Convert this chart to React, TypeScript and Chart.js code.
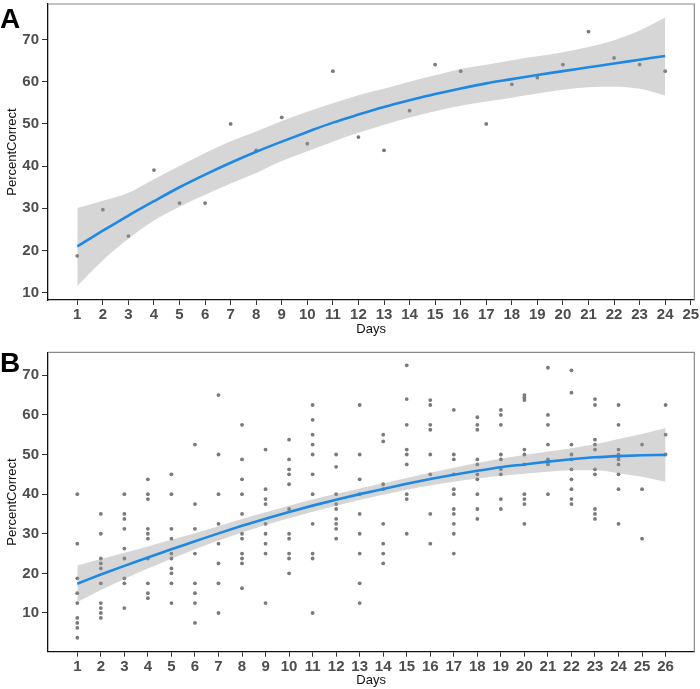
import React, { useEffect, useRef } from "react";
import { Chart, registerables } from "chart.js";
Chart.register(...registerables);

// ---------- Panel A ----------
const daysA = [1, 2, 3, 4, 5, 6, 7, 8, 9, 10, 11, 12, 13, 14, 15, 16, 17, 18, 19, 20, 21, 22, 23, 24];
const pctA = [18.75, 29.69, 23.44, 39.06, 31.25, 31.25, 50, 43.75, 51.56, 45.31, 62.5, 46.88, 43.75, 53.13, 64.06, 62.5, 50, 59.38, 60.94, 64.06, 71.88, 65.63, 64.06, 62.5];
const fitA = [21.0, 24.7, 28.3, 31.7, 35.0, 38.0, 40.8, 43.4, 45.8, 48.1, 50.3, 52.2, 54.0, 55.6, 57.1, 58.4, 59.6, 60.6, 61.6, 62.5, 63.4, 64.3, 65.2, 66.1];
const upperA = [30.1, 31.8, 33.7, 36.9, 40.0, 43.1, 45.9, 48.2, 50.7, 52.9, 54.9, 56.8, 58.3, 60.0, 61.5, 63.0, 64.0, 65.1, 66.0, 67.0, 68.2, 69.8, 72.1, 75.2];
const lowerA = [11.6, 17.7, 22.8, 27.1, 30.4, 33.2, 35.9, 38.4, 41.2, 43.5, 45.8, 47.9, 49.8, 51.5, 53.0, 54.3, 55.3, 56.2, 57.2, 58.1, 58.7, 58.8, 58.3, 56.7];
const xTicksA = [1, 2, 3, 4, 5, 6, 7, 8, 9, 10, 11, 12, 13, 14, 15, 16, 17, 18, 19, 20, 21, 22, 23, 24, 25];

// ---------- Panel B ----------
const daysB = [1, 2, 3, 4, 5, 6, 7, 8, 9, 10, 11, 12, 13, 14, 15, 16, 17, 18, 19, 20, 21, 22, 23, 24, 25, 26];
const scoresB = [
  [40, 27.5, 18.75, 15, 12.5, 8.75, 7.5, 6.25, 3.75],
  [35, 30, 23.75, 22.5, 21.25, 17.5, 12.5, 11.25, 10, 8.75],
  [40, 35, 33.75, 31.25, 26.25, 23.75, 18.75, 17.5, 11.25],
  [43.75, 40, 38.75, 31.25, 30, 28.75, 23.75, 17.5, 15, 13.75],
  [45, 40, 31.25, 28.75, 25, 23.75, 21.25, 20, 17.5, 12.5],
  [52.5, 37.5, 31.25, 25, 17.5, 15, 12.5, 7.5],
  [65, 50, 40, 32.5, 27.5, 22.5, 17.5, 10],
  [57.5, 48.75, 43.75, 40, 35, 30, 28.75, 25, 23.75, 22.5, 16.25],
  [51.25, 41.25, 38.75, 37.5, 32.5, 30, 27.5, 25, 12.5],
  [53.75, 48.75, 46.25, 45, 42.5, 36.25, 30, 28.75, 25, 23.75, 20],
  [62.5, 58.75, 55, 52.5, 50, 45, 40, 32.5, 25, 23.75, 10],
  [50, 46.9, 40, 37.5, 36.25, 33.75, 32.5, 31.25, 28.75],
  [62.5, 50, 43.75, 40, 35, 30, 25, 17.5, 12.5],
  [55, 53.3, 42.5, 41.25, 32.5, 27.5, 25, 22.5],
  [72.5, 64, 57.5, 51.25, 50, 47.5, 40, 38.75, 30],
  [63.75, 62.5, 57.5, 56.25, 50, 45, 35, 27.5],
  [61.25, 50, 48.75, 45, 41.25, 40, 36.25, 35, 32.5, 30, 25],
  [59.4, 57.5, 56.25, 48.75, 47.5, 45, 43.75, 40, 36.25, 33.75],
  [61.25, 60, 57.5, 50, 48.75, 46.25, 45, 38.75, 36.25],
  [65, 64.4, 63.75, 51.25, 50, 47.5, 40, 38.75, 37.5, 32.5],
  [71.9, 60, 57.5, 52.5, 48.75, 48.1, 47.5, 40],
  [71.25, 65.6, 52.5, 50, 48.75, 46.25, 43.75, 41.25, 38.75, 37.5],
  [64, 62.5, 53.75, 52.5, 51.25, 46.25, 45, 36.25, 35, 33.75],
  [62.5, 57.5, 51.25, 50, 49.4, 48.75, 47.5, 45, 41.25, 32.5],
  [52.5, 41.25, 28.75],
  [62.5, 55, 50],
];
const fitB = [17.4, 19.7, 21.9, 24.0, 26.1, 28.1, 30.1, 32.0, 33.8, 35.5, 37.1, 38.6, 40.0, 41.3, 42.6, 43.8, 44.9, 45.9, 46.8, 47.5, 48.2, 48.8, 49.3, 49.6, 49.8, 49.9];
const upperB = [22.0, 23.6, 25.2, 26.8, 28.5, 30.1, 31.9, 33.7, 35.4, 37.1, 38.65, 40.1, 41.45, 42.75, 44.1, 45.4, 46.65, 47.85, 48.95, 49.85, 50.75, 51.6, 52.6, 53.9, 55.2, 56.7];
const lowerB = [12.8, 15.8, 18.6, 21.2, 23.7, 26.1, 28.3, 30.3, 32.2, 33.9, 35.55, 37.1, 38.55, 39.85, 41.1, 42.2, 43.15, 43.95, 44.65, 45.15, 45.65, 46.0, 46.0, 45.3, 44.4, 43.1];
const xTicksB = [1, 2, 3, 4, 5, 6, 7, 8, 9, 10, 11, 12, 13, 14, 15, 16, 17, 18, 19, 20, 21, 22, 23, 24, 25, 26];

const yTicks = [10, 20, 30, 40, 50, 60, 70];

const FONT = "'Liberation Sans', Arial, Helvetica, sans-serif";

type PanelSpec = {
  label: string;
  days: number[];
  points: { x: number; y: number }[];
  fit: number[];
  upper: number[];
  lower: number[];
  xTicks: number[];
  xMin: number;
  xMax: number;
  yMin: number;
  yMax: number;
  padTop: number;
  xAxisH: number;
  xTitlePadBottom: number;
  labelBaseline: number;
};

function buildConfig(p: PanelSpec): any {
  const toXY = (arr: number[]) => p.days.map((d, i) => ({ x: d, y: arr[i] }));
  const framePlugin = {
    id: "frame" + p.label,
    beforeDatasetsDraw(chart: any) {
      const { ctx, chartArea } = chart;
      const { left, top, right, bottom } = chartArea;
      ctx.save();
      ctx.strokeStyle = "#8a8a8a";
      ctx.lineWidth = 1.2;
      ctx.beginPath();
      ctx.moveTo(left, top);
      ctx.lineTo(right, top);
      ctx.lineTo(right, bottom);
      ctx.stroke();
      ctx.restore();
    },
  };
  const labelPlugin = {
    id: "panelLabel" + p.label,
    afterDraw(chart: any) {
      const ctx = chart.ctx;
      ctx.save();
      ctx.font = `bold 28px ${FONT}`;
      ctx.fillStyle = "#000";
      ctx.textBaseline = "alphabetic";
      ctx.textAlign = "left";
      ctx.fillText(p.label, 0, p.labelBaseline);
      ctx.restore();
    },
  };
  return {
    type: "scatter",
    data: {
      datasets: [
        {
          type: "line",
          data: toXY(p.fit),
          borderColor: "#1f88e5",
          borderWidth: 2.6,
          pointRadius: 0,
          fill: false,
          cubicInterpolationMode: "monotone",
        },
        {
          type: "line",
          data: toXY(p.lower),
          borderWidth: 0,
          borderColor: "rgba(0,0,0,0)",
          pointRadius: 0,
          fill: false,
          cubicInterpolationMode: "monotone",
        },
        {
          type: "line",
          data: toXY(p.upper),
          borderWidth: 0,
          borderColor: "rgba(0,0,0,0)",
          backgroundColor: "rgba(153,153,153,0.4)",
          pointRadius: 0,
          fill: "-1",
          cubicInterpolationMode: "monotone",
        },
        {
          type: "scatter",
          data: p.points,
          pointRadius: 1.9,
          backgroundColor: "#7a7a7a",
          borderWidth: 0,
        },
      ],
    },
    options: {
      animation: false,
      responsive: false,
      maintainAspectRatio: false,
      events: [],
      layout: { padding: { left: 0, right: 5.7, top: p.padTop, bottom: 0 } },
      plugins: { legend: { display: false }, tooltip: { enabled: false } },
      scales: {
        x: {
          type: "linear",
          min: p.xMin,
          max: p.xMax,
          afterBuildTicks: (s: any) => {
            s.ticks = p.xTicks.map((v) => ({ value: v }));
          },
          afterFit: (s: any) => {
            s.height = p.xAxisH;
            s.paddingLeft = 0;
            s.paddingRight = 0;
          },
          ticks: {
            font: { family: FONT, size: 15, weight: "bold" },
            color: "#4d4d4d",
            padding: 1,
            autoSkip: false,
            maxRotation: 0,
            callback: (v: any) => String(v),
          },
          grid: { display: true, drawOnChartArea: false, drawTicks: true, tickLength: 5, color: "#333" },
          border: { display: true, color: "#111", width: 1.3 },
          title: {
            display: true,
            text: "Days",
            font: { family: FONT, size: 13 },
            color: "#111",
            padding: { top: 0, bottom: p.xTitlePadBottom },
          },
        },
        y: {
          type: "linear",
          min: p.yMin,
          max: p.yMax,
          afterBuildTicks: (s: any) => {
            s.ticks = yTicks.map((v) => ({ value: v }));
          },
          afterFit: (s: any) => {
            s.width = 48;
            s.paddingTop = 0;
            s.paddingBottom = 0;
          },
          ticks: {
            font: { family: FONT, size: 15, weight: "bold" },
            color: "#4d4d4d",
            padding: 3,
            callback: (v: any) => String(v),
          },
          grid: { display: true, drawOnChartArea: false, drawTicks: true, tickLength: 6, color: "#333" },
          border: { display: true, color: "#111", width: 1.3 },
          title: {
            display: true,
            text: "PercentCorrect",
            font: { family: FONT, size: 13 },
            color: "#111",
            padding: { top: 4.4, bottom: 0 },
          },
        },
      },
    },
    plugins: [framePlugin, labelPlugin],
  };
}

const pointsA = daysA.map((d, i) => ({ x: d, y: pctA[i] }));
const pointsB = scoresB.flatMap((vals, i) => vals.map((v) => ({ x: daysB[i], y: v })));

const specA: PanelSpec = {
  label: "A",
  days: daysA,
  points: pointsA,
  fit: fitA,
  upper: upperA,
  lower: lowerA,
  xTicks: xTicksA,
  xMin: -0.146,
  xMax: 25.14,
  yMin: 8.29,
  yMax: 78.4,
  padTop: 1.5,
  xAxisH: 40,
  xTitlePadBottom: 3.2,
  labelBaseline: 27.5,
};

const specB: PanelSpec = {
  label: "B",
  days: daysB,
  points: pointsB,
  fit: fitB,
  upper: upperB,
  lower: lowerB,
  xTicks: xTicksB,
  xMin: -0.245,
  xMax: 27.22,
  yMin: 0.23,
  yMax: 75.8,
  padTop: 12.3,
  xAxisH: 37.3,
  xTitlePadBottom: 0.7,
  labelBaseline: 31.7,
};

function Panel({ spec, top, height }: { spec: PanelSpec; top: number; height: number }) {
  const ref = useRef<HTMLCanvasElement | null>(null);
  useEffect(() => {
    if (!ref.current) return;
    const chart = new Chart(ref.current, buildConfig(spec));
    return () => chart.destroy();
  }, [spec]);
  return (
    <canvas
      ref={ref}
      width={700}
      height={height}
      style={{ position: "absolute", left: 0, top, width: 700, height }}
    />
  );
}

export default function App() {
  return (
    <div style={{ position: "absolute", left: 0, top: 0, width: 700, height: 689, background: "#fff" }}>
      <Panel spec={specA} top={0} height={340} />
      <Panel spec={specB} top={340} height={349} />
    </div>
  );
}
